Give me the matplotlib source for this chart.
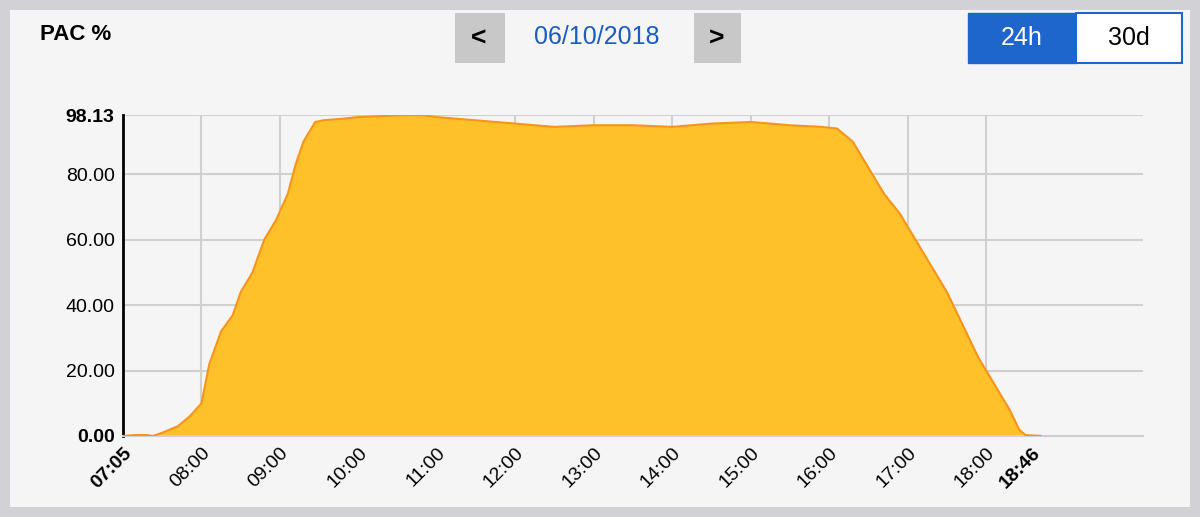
import matplotlib
matplotlib.use("Agg")
import matplotlib.pyplot as plt
from matplotlib.patches import Rectangle
import matplotlib.transforms as mtrans

plt.rcParams['font.family'] = ['Liberation Sans', 'DejaVu Sans']

hours = [7.0,7.15,7.3,7.38,7.5,7.7,7.85,8.0,8.1,8.25,8.4,8.5,8.65,8.8,8.95,9.1,9.2,9.3,9.45,9.55,9.8,10.0,10.5,10.8,11.0,11.5,12.0,12.5,13.0,13.5,14.0,14.5,15.0,15.5,15.9,16.1,16.3,16.5,16.7,16.9,17.1,17.3,17.5,17.7,17.9,18.1,18.3,18.42,18.5,18.7]
pac = [0,0.3,0.3,0,1,3,6,10,22,32,37,44,50,60,66,74,83,90,96,96.5,97,97.5,98,98.13,97.5,96.5,95.5,94.5,95,95,94.5,95.5,96,95,94.5,94,90,82,74,68,60,52,44,34,24,16,8,2,0.3,0]
yticks = [0,20,40,60,80,98.13]
hour_ticks = [8,9,10,11,12,13,14,15,16,17,18]
hour_labels = ["08:00","09:00","10:00","11:00","12:00","13:00","14:00","15:00","16:00","17:00","18:00"]
start_label, start_pos = "07:05", 7.0
end_label, end_pos = "18:46", 18.58

fig = plt.figure(figsize=(12,5.17), dpi=100)
fig.patch.set_facecolor("#d2d2d6")
fig.patches.append(Rectangle((10/1200,10/517),1180/1200,497/517,transform=fig.transFigure,facecolor="#f5f5f5",edgecolor="none",zorder=-10))

ax = fig.add_axes([123/1200, 1-436/517, 1020/1200, (436-115)/517])
ax.set_zorder(5)
ax.set_facecolor("#f5f5f5")
ax.fill_between(hours, pac, color="#ffc12a", zorder=2)
ax.plot(hours, pac, color="#f7941d", lw=1.5, zorder=3)
ax.set_xlim(7.0, 20.0)
ax.set_ylim(0, 98.13)
ax.set_yticks(yticks)
ax.set_yticklabels(["%.2f" % v for v in yticks], fontsize=14)
for i, t in enumerate(ax.get_yticklabels()):
    if i in (0, len(yticks)-1):
        t.set_fontweight("bold")
ax.set_xticks(hour_ticks)
ax.set_xticklabels(hour_labels, rotation=45, ha="right", rotation_mode="anchor", fontsize=14)
tr = ax.get_xaxis_transform() + mtrans.ScaledTranslation(0, -6/72, fig.dpi_scale_trans)
for lab, pos in [(start_label, start_pos), (end_label, end_pos)]:
    ax.text(pos, 0, lab, transform=tr, rotation=45, ha="right", va="top",
            rotation_mode="anchor", fontsize=14, fontweight="bold")
ax.tick_params(length=0, pad=6)
ax.grid(True, color="#d0d0d0", lw=1.5, zorder=1)
for s in ["top","right"]:
    ax.spines[s].set_visible(False)
ax.spines["bottom"].set_color("#d0d0d0")
ax.spines["bottom"].set_linewidth(1.5)
ax.spines["left"].set_color("black")
ax.spines["left"].set_linewidth(2)

fig.text(40/1200, 1-35/517, "PAC %", fontsize=16, fontweight="bold", va="center")
fig.patches.append(Rectangle((455/1200,1-63/517),50/1200,50/517,transform=fig.transFigure,facecolor="#c8c8c8",edgecolor="none"))
fig.patches.append(Rectangle((694/1200,1-63/517),47/1200,50/517,transform=fig.transFigure,facecolor="#c8c8c8",edgecolor="none"))
fig.text(479/1200, 1-39/517, "<", fontsize=19, fontweight="bold", ha="center", va="center")
fig.text(717/1200, 1-39/517, ">", fontsize=19, fontweight="bold", ha="center", va="center")
fig.text(597/1200, 1-37/517, "06/10/2018", fontsize=18, color="#1a5cc0", ha="center", va="center")
fig.patches.append(Rectangle((968/1200,1-63/517),108/1200,50/517,transform=fig.transFigure,facecolor="#1f66cc",edgecolor="#1f66cc"))
fig.patches.append(Rectangle((1076/1200,1-63/517),106/1200,50/517,transform=fig.transFigure,facecolor="white",edgecolor="#1f66cc",lw=1.5))
fig.text(1022/1200, 1-38/517, "24h", fontsize=18, color="white", ha="center", va="center")
fig.text(1129/1200, 1-38/517, "30d", fontsize=18, color="black", ha="center", va="center")

fig.savefig("out.png", dpi=100, facecolor=fig.get_facecolor())
